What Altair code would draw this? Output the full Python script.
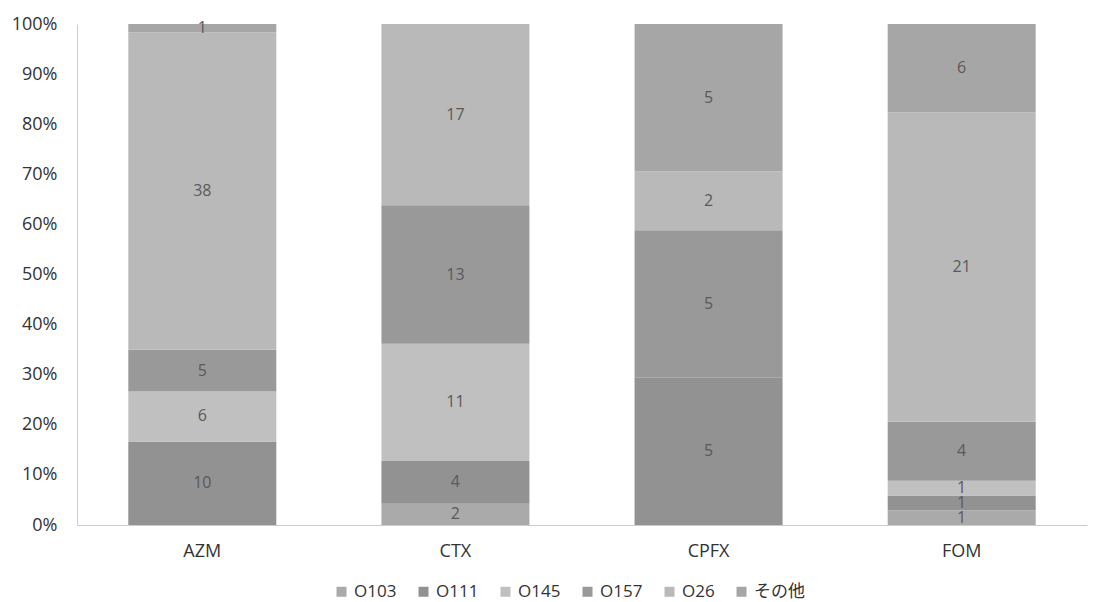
import altair as alt
import pandas as pd

drugs = ["AZM", "CTX", "CPFX", "FOM"]
serotypes = ["O103", "O111", "O145", "O157", "O26", "その他"]
counts = {
    "O103": [0, 2, 0, 1],
    "O111": [10, 4, 5, 1],
    "O145": [6, 11, 0, 1],
    "O157": [5, 13, 5, 4],
    "O26": [38, 17, 2, 21],
    "その他": [1, 0, 5, 6],
}
colors = ["#aaaaaa", "#929292", "#c0c0c0", "#999999", "#b9b9b9", "#a6a6a6"]

rows = []
for si, s in enumerate(serotypes):
    for di, d in enumerate(drugs):
        rows.append({"drug": d, "serotype": s, "order": si, "count": counts[s][di]})
df = pd.DataFrame(rows)

FONT = "Open Sans, Noto Sans CJK JP, sans-serif"

base = alt.Chart(df).transform_stack(
    stack="count",
    groupby=["drug"],
    as_=["y0", "y1"],
    offset="normalize",
    sort=[alt.SortField("order", order="ascending")],
).transform_calculate(mid="(datum.y0 + datum.y1) / 2")

xenc = alt.X("drug:N", sort=drugs, title=None,
             scale=alt.Scale(paddingInner=0.41, paddingOuter=0.2),
             axis=alt.Axis(labelAngle=0, ticks=False, domainColor="#cccccc",
                           labelFont=FONT, labelFontSize=18, labelColor="#333333",
                           labelPadding=17))

bars = base.mark_bar(size=148).encode(
    x=xenc,
    y=alt.Y("y0:Q", title=None, scale=alt.Scale(domain=[0, 1]),
            axis=alt.Axis(format="%", values=[i / 10 for i in range(11)], grid=False,
                          ticks=False, domainColor="#cccccc", labelFont=FONT,
                          labelFontSize=18, labelColor="#333333", labelPadding=20)),
    y2="y1:Q",
    color=alt.Color("serotype:N", sort=serotypes,
                    scale=alt.Scale(domain=serotypes, range=colors),
                    legend=alt.Legend(title=None, orient="none", direction="horizontal",
                                      legendX=256, legendY=559, symbolType="square",
                                      symbolSize=100, symbolStrokeWidth=0,
                                      labelFont=FONT, labelFontSize=17,
                                      labelColor="#333333", columnPadding=18,
                                      symbolOffset=0, labelOffset=4)),
)

labels = base.transform_filter("datum.count > 0").mark_text(
    font=FONT, fontSize=16, color="#595959", baseline="middle"
).encode(
    x=alt.X("drug:N", sort=drugs),
    y=alt.Y("mid:Q"),
    text=alt.Text("count:Q"),
)

chart = (bars + labels).properties(
    width=1010, height=501,
    autosize=alt.AutoSizeParams(type="none"),
    padding={"left": 77, "top": 24, "right": 20, "bottom": 77},
).configure(background="white").configure_view(strokeWidth=0, stroke="transparent")

chart.save("out.html", embed_options={"renderer": "svg", "actions": False})
